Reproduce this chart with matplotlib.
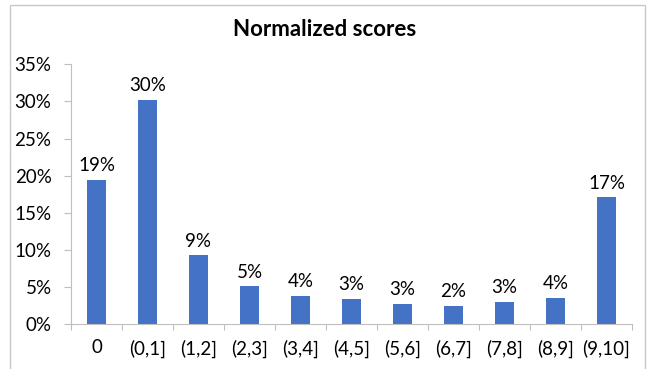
import numpy as np
import matplotlib.pyplot as plt
from matplotlib.patches import Rectangle
from matplotlib.ticker import FuncFormatter, FixedLocator

plt.rcParams["font.family"] = ["Lato", "DejaVu Sans"]

categories = ["0", "(0,1]", "(1,2]", "(2,3]", "(3,4]", "(4,5]",
              "(5,6]", "(6,7]", "(7,8]", "(8,9]", "(9,10]"]
shares = [19.45, 30.2, 9.26, 5.08, 3.77, 3.41, 2.70, 2.47, 3.0, 3.54, 17.1]
bar_labels = ["19%", "30%", "9%", "5%", "4%", "3%", "3%", "2%", "3%", "4%", "17%"]
y_ticks = [0, 5, 10, 15, 20, 25, 30, 35]

W, H = 650, 369
fig = plt.figure(figsize=(W / 100, H / 100), dpi=100)

# chart area border, runs off the bottom edge
fig.patches.append(Rectangle((10 / W, -0.1), 635 / W, 1.1 - 5 / H,
                             transform=fig.transFigure, fill=False,
                             edgecolor="#c8c8c8", linewidth=1.0))

ax = fig.add_axes([71 / W, 45 / H, 561 / W, 259.7 / H])
x = np.arange(len(categories))
bars = ax.bar(x, shares, width=0.39, color="#4472C4")

for xi, v, lab in zip(x, shares, bar_labels):
    ax.annotate(lab, (xi, v), xytext=(0, 4), textcoords="offset points",
                ha="center", va="bottom", fontsize=13.5, color="#000000")

ax.set_xlim(-0.5, len(categories) - 0.5)
ax.set_ylim(0, 35)
ax.set_yticks(y_ticks)
ax.yaxis.set_major_formatter(FuncFormatter(lambda v, _: f"{v:.0f}%"))
ax.set_xticks(x)
ax.set_xticklabels(categories)
ax.xaxis.set_minor_locator(FixedLocator(np.arange(-0.5, len(categories), 1.0)))

ax.tick_params(axis="x", which="major", length=0, pad=11, labelsize=13.5)
ax.tick_params(axis="x", which="minor", length=4, color="#bfbfbf", width=0.8)
ax.tick_params(axis="y", length=5, color="#bfbfbf", width=0.8, pad=9,
               labelsize=13.5)

for side in ("top", "right"):
    ax.spines[side].set_visible(False)
for side in ("left", "bottom"):
    ax.spines[side].set_color("#bfbfbf")
    ax.spines[side].set_linewidth(0.8)

fig.text(0.5, 1 - 30 / H, "Normalized scores", ha="center", va="center",
         fontsize=16, fontweight="bold")

fig.savefig("out.png", dpi=100)
